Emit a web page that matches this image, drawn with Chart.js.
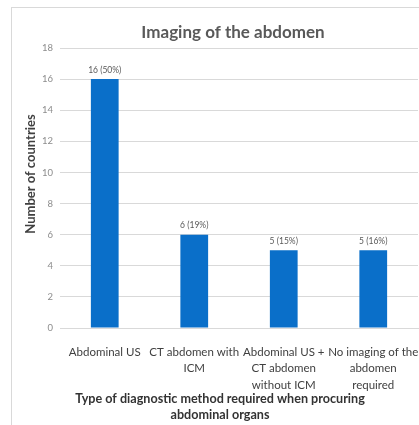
<!DOCTYPE html>
<html>
<head>
<meta charset="utf-8">
<script src="https://cdn.jsdelivr.net/npm/chart.js@4/dist/chart.umd.min.js"></script>
<style>
  html, body { margin: 0; padding: 0; background: #fff; overflow: hidden; }
  #wrap { position: relative; width: 419px; height: 425px; }
  #frame { position: absolute; left: 11px; top: 7px; width: 480px; height: 480px; border: 1px solid #d9d9d9; }
  canvas { position: absolute; left: 0; top: 0; }
</style>
</head>
<body>
<div id="wrap">
  <div id="frame"></div>
  <canvas id="c" width="419" height="425"></canvas>
</div>
<script>
  // categorias e valores
  const CATEGORIES = [
    ['Abdominal US'],
    ['CT abdomen with', 'ICM'],
    ['Abdominal US +', 'CT abdomen', 'without ICM'],
    ['No imaging of the', 'abdomen', 'required']
  ];
  const COUNTRIES = [16, 6, 5, 5];
  const VALUE_LABELS = ['16 (50%)', '6 (19%)', '5 (15%)', '5 (16%)'];
  const Y_TICKS = [0, 2, 4, 6, 8, 10, 12, 14, 16, 18];

  const TITLE = 'Imaging of the abdomen';
  const Y_TITLE = 'Number of countries';
  const X_TITLE = ['Type of diagnostic method required when procuring', 'abdominal organs'];

  const FONT = 'Lato, "Open Sans", sans-serif';

  /* Títulos desenhados à mão: no original estão deslocados do centro da área do gráfico. */
  const titles = {
    id: 'titles',
    afterDraw: function (chart) {
      const ctx = chart.ctx;
      ctx.save();
      ctx.textAlign = 'center';
      ctx.textBaseline = 'middle';

      ctx.fillStyle = '#595959';
      ctx.font = 'bold 17px ' + FONT;
      ctx.fillText(TITLE, 233, 33);

      ctx.fillStyle = '#333333';
      ctx.font = 'bold 12.6px ' + FONT;
      X_TITLE.forEach(function (line, i) {
        ctx.fillText(line, 220, 399 + i * 16);
      });

      ctx.fillStyle = '#404040';
      ctx.font = 'bold 13px ' + FONT;
      ctx.translate(31, 174);
      ctx.rotate(-Math.PI / 2);
      ctx.fillText(Y_TITLE, 0, 0);
      ctx.restore();
    }
  };

  const valueLabels = {
    id: 'valueLabels',
    afterDatasetsDraw: function (chart) {
      const ctx = chart.ctx;
      const meta = chart.getDatasetMeta(0);
      ctx.save();
      ctx.font = '8.5px ' + FONT;
      ctx.fillStyle = '#595959';
      ctx.textAlign = 'center';
      ctx.textBaseline = 'bottom';
      meta.data.forEach(function (bar, i) {
        ctx.fillText(VALUE_LABELS[i], bar.x, bar.y - 5);
      });
      ctx.restore();
    }
  };

  new Chart(document.getElementById('c'), {
    type: 'bar',
    data: {
      labels: CATEGORIES,
      datasets: [{
        data: COUNTRIES,
        backgroundColor: '#0a6fc9',
        borderWidth: 0,
        categoryPercentage: 1,
        barPercentage: 0.31
      }]
    },
    options: {
      responsive: false,
      animation: false,
      devicePixelRatio: 1,
      layout: { padding: { left: 0, right: 1, top: 48, bottom: 0 } },
      plugins: {
        legend: { display: false },
        tooltip: { enabled: false },
        title: { display: false }
      },
      scales: {
        x: {
          grid: { display: false, drawTicks: false },
          border: { color: '#d9d9d9' },
          ticks: {
            color: '#404040',
            font: { family: FONT, size: 11.5, lineHeight: 1.42 },
            padding: 16,
            maxRotation: 0,
            autoSkip: false
          },
          afterFit: function (s) {
            s.height = 97;
            s.paddingLeft = 0;
            s.paddingRight = 0;
          }
        },
        y: {
          min: 0,
          max: 18,
          afterBuildTicks: function (s) {
            s.ticks = Y_TICKS.map(function (v) { return { value: v }; });
          },
          grid: { color: '#d9d9d9', drawTicks: false },
          border: { display: false },
          ticks: {
            color: '#8c8c8c',
            font: { family: FONT, size: 9.5 },
            padding: 7
          },
          afterFit: function (s) {
            s.width = 60;
            s.paddingTop = 0;
            s.paddingBottom = 0;
          }
        }
      }
    },
    plugins: [valueLabels, titles]
  });
</script>
</body>
</html>
